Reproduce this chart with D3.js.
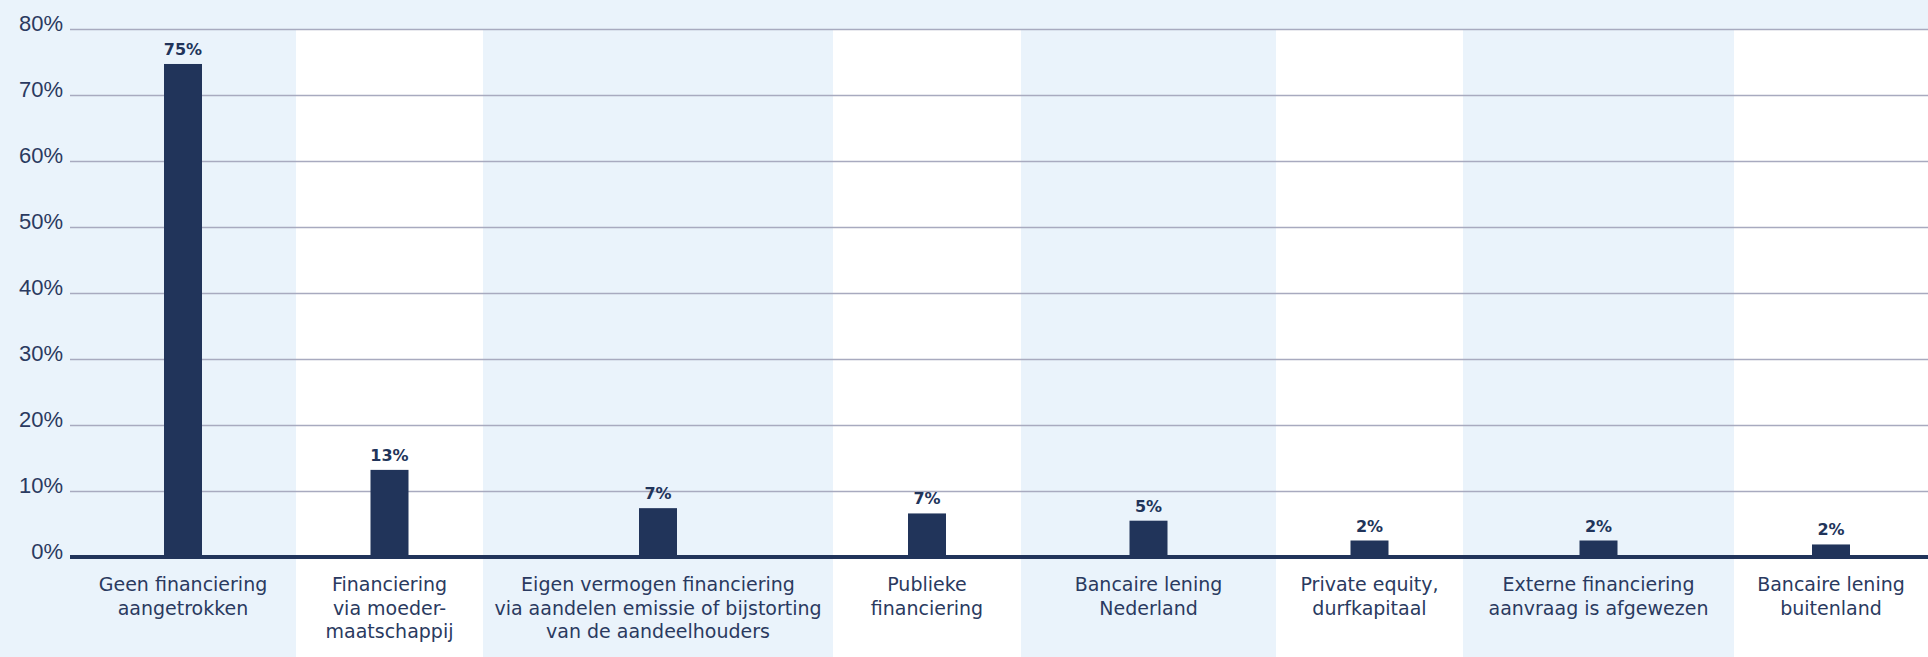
<!DOCTYPE html>
<html>
<head>
<meta charset="utf-8">
<script src="https://cdn.jsdelivr.net/npm/d3@7"></script>
<style>
  html, body { margin: 0; padding: 0; background: #eaf3fb; }
  svg { display: block; font-family: 'DejaVu Sans', sans-serif; }
</style>
</head>
<body>
<div id="chart"></div>
<script>
// Data
const categories = [
  ['Geen financiering', 'aangetrokken'],
  ['Financiering', 'via  moeder-', 'maatschappij'],
  ['Eigen vermogen financiering', 'via aandelen emissie of bijstorting', 'van de aandeelhouders'],
  ['Publieke', 'financiering'],
  ['Bancaire lening', 'Nederland'],
  ['Private equity,', 'durfkapitaal'],
  ['Externe financiering', 'aanvraag is afgewezen'],
  ['Bancaire lening', 'buitenland']
];
const values = [74.7, 13.2, 7.4, 6.6, 5.5, 2.5, 2.5, 1.9];
const valueLabels = ['75%', '13%', '7%', '7%', '5%', '2%', '2%', '2%'];
const yTicks = [0, 10, 20, 30, 40, 50, 60, 70, 80];

// Layout (relative column widths, not data)
const colWidths = [226, 187, 350, 188, 255, 187, 271, 194];

const width = 1928;
const height = 657;
const leftMargin = 70;
const topY = 29;
const baseY = 557;
const barWidth = 38;

const navy = '#21345a';
const bandBlue = '#eaf3fb';
const gridColor = '#a8aabf';

const svg = d3.select('#chart')
  .append('svg')
  .attr('width', width)
  .attr('height', height);

// background
svg.append('rect')
  .attr('width', width)
  .attr('height', height)
  .attr('fill', bandBlue);

// x: cumulative column edges through a linear scale
const edges = [0, ...d3.cumsum(colWidths)];
const x = d3.scaleLinear()
  .domain([0, d3.sum(colWidths)])
  .range([leftMargin, width]);
const colLeft = i => x(edges[i]);
const colRight = i => x(edges[i + 1]);
const colMid = i => (colLeft(i) + colRight(i)) / 2;

// y scale
const y = d3.scaleLinear()
  .domain([0, 80])
  .range([baseY, topY]);

// white bands for every second column
svg.selectAll('.band')
  .data(categories.map((c, i) => i).filter(i => i % 2 === 1))
  .enter()
  .append('rect')
  .attr('class', 'band')
  .attr('x', i => colLeft(i))
  .attr('width', i => colRight(i) - colLeft(i))
  .attr('y', topY)
  .attr('height', height - topY)
  .attr('fill', '#ffffff');

// gridlines + y labels
const yAxis = svg.append('g')
  .attr('transform', `translate(${leftMargin},0)`)
  .call(d3.axisLeft(y)
    .tickValues(yTicks)
    .tickSize(-(width - leftMargin))
    .tickPadding(7)
    .tickFormat(d => d + '%'));
yAxis.select('.domain').remove();
yAxis.selectAll('line')
  .attr('stroke', gridColor)
  .attr('stroke-width', 1.5);
yAxis.selectAll('text')
  .attr('dy', '0.05em')
  .attr('fill', '#2a3a60')
  .attr('font-size', '22px');

// bars
svg.selectAll('.bar')
  .data(values)
  .enter()
  .append('rect')
  .attr('class', 'bar')
  .attr('x', (d, i) => colMid(i) - barWidth / 2)
  .attr('width', barWidth)
  .attr('y', d => y(d))
  .attr('height', d => y(0) - y(d))
  .attr('fill', navy);

// baseline
svg.append('line')
  .attr('x1', leftMargin)
  .attr('x2', width)
  .attr('y1', y(0))
  .attr('y2', y(0))
  .attr('stroke', navy)
  .attr('stroke-width', 4);

// value labels
svg.selectAll('.val')
  .data(values)
  .enter()
  .append('text')
  .attr('class', 'val')
  .attr('x', (d, i) => colMid(i))
  .attr('y', d => y(d) - 9)
  .attr('text-anchor', 'middle')
  .attr('font-size', '16px')
  .attr('font-weight', 'bold')
  .attr('fill', navy)
  .text((d, i) => valueLabels[i]);

// category labels
const catText = svg.selectAll('.cat')
  .data(categories)
  .enter()
  .append('text')
  .attr('class', 'cat')
  .attr('text-anchor', 'middle')
  .attr('font-size', '19px')
  .attr('fill', '#2a3a60');
catText.selectAll('tspan')
  .data((d, i) => d.map(line => ({ line, i })))
  .enter()
  .append('tspan')
  .attr('x', d => colMid(d.i))
  .attr('y', (d, j) => 591 + j * 23.5)
  .text(d => d.line);
</script>
</body>
</html>
